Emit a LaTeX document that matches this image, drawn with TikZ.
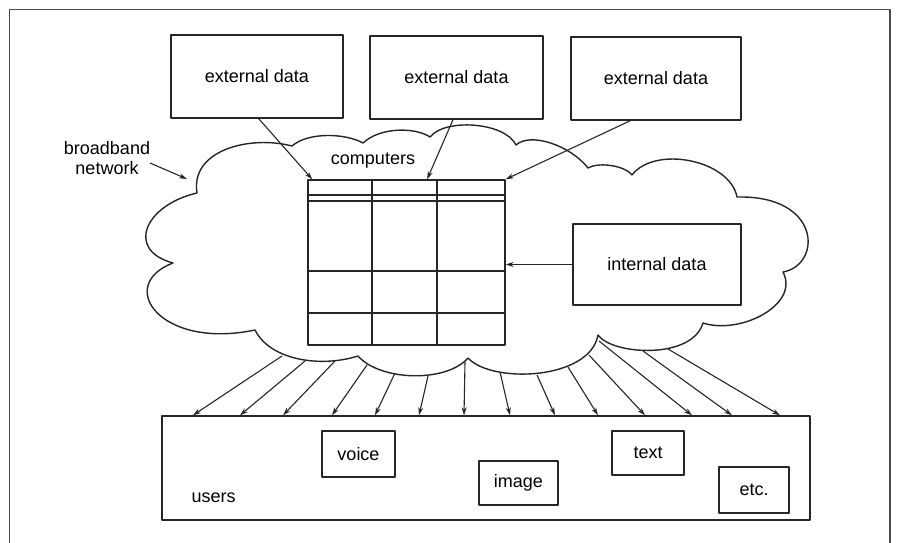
\documentclass[tikz,border=0pt]{standalone}
\usepackage{fontspec}
\setmainfont{Liberation Sans}
\usetikzlibrary{arrows.meta,calc}
\begin{document}
\begin{tikzpicture}[x=1pt,y=-1pt,line join=round,
  every node/.style={font=\fontsize{18}{20}\selectfont,text=black},
  box/.style={draw=black!85,line width=1.4pt,inner sep=0pt},
  conn/.style={draw=black!85,line width=1.1pt,-{Stealth[length=8pt,width=5pt]}},
  outline/.style={draw=black!85,line width=1.4pt},
  gridline/.style={draw=black!85,line width=1.2pt}]
\useasboundingbox (0,0) rectangle (902,543);
\fill[white] (0,0) rectangle (902,543);
% frame
\draw[black!70,line width=1.2pt] (9.5,560) -- (9.5,9.5) -- (890,9.5) -- (890,560);
% cloud
\draw[outline] (197,193)
 .. controls (145,205) and (125,250) .. (173,263)
 .. controls (115,285) and (160,350) .. (255,330)
 .. controls (270,360) and (320,368) .. (358,356)
 .. controls (380,381) and (446,383) .. (468,358)
 .. controls (492,384) and (590,380) .. (598,335)
 .. controls (612,355) and (692,360) .. (703,323)
 .. controls (740,335) and (800,305) .. (783,272)
 .. controls (822,265) and (822,195) .. (737,197)
 .. controls (730,160) and (655,145) .. (632,175)
 .. controls (624,165) and (598,162) .. (588,168)
 .. controls (570,145) and (530,132) .. (516,145)
 .. controls (505,122) and (445,118) .. (430,137)
 .. controls (415,127) and (380,127) .. (363,143)
 .. controls (345,133) and (308,132) .. (292,146)
 .. controls (250,135) and (190,150) .. (197,193) -- cycle;
% external data boxes
\node[box,minimum width=172pt,minimum height=83pt] (ext1) at (257,76.5) {external data};
\node[box,minimum width=173pt,minimum height=83pt] (ext2) at (456.5,77.5) {external data};
\node[box,minimum width=170pt,minimum height=83pt] (ext3) at (656,78.5) {external data};
% computers grid
\node[box,minimum width=197pt,minimum height=165pt] (comp) at (406.5,262.5) {};
\draw[gridline] (372,180) -- (372,345);
\draw[gridline] (437,180) -- (437,345);
\draw[gridline] (308,195) -- (505,195);
\draw[gridline] (308,201) -- (505,201);
\draw[gridline] (308,271) -- (505,271);
\draw[gridline] (308,313) -- (505,313);
\node (complabel) at (373,161) {computers};
% internal data
\node[box,minimum width=168pt,minimum height=81pt] (int) at (657,264.5) {internal data};
% arrows into computers
\draw[conn] ($(ext1.south west)!0.51!(ext1.south east)$) -- ($(comp.north west)!0.025!(comp.north east)$);
\draw[conn] ($(ext2.south west)!0.48!(ext2.south east)$) -- ($(comp.north west)!0.604!(comp.north east)$);
\draw[conn] ($(ext3.south west)!0.35!(ext3.south east)$) -- (comp.north east);
\draw[conn] (int.west) -- (int.west -| comp.east);
% broadband network label
\node[align=center] (bblabel) at (107,158) {broadband\\network};
\coordinate (bnA) at (150,163);
\coordinate (bnB) at (187,179);
\draw[conn] (bnA) -- (bnB);
% users
\node[box,minimum width=648pt,minimum height=104pt] (users) at (486,468) {};
\node[anchor=west] (userslabel) at (188,498) {users};
\node[box,minimum width=73pt,minimum height=46pt] (voice) at (358.5,454) {voice};
\node[box,minimum width=79pt,minimum height=44pt] (image) at (518.5,483) {image};
\node[box,minimum width=72pt,minimum height=44pt] (textb) at (648,453) {text};
\node[box,minimum width=70pt,minimum height=46pt] (etc) at (754,490) {etc.};
% arrows to users
\foreach \sx/\sy/\tx [count=\i] in {282/356/193,305/361/240,335/361/283,367/365/332,395/373/375,428/376/419,465/362/464,500/372/510,537/375/555,568/367/598,589/355/645,599/341/692,643/351/732,668/349/780}{
  \coordinate (s\i) at (\sx,\sy);
  \coordinate (t\i) at (\tx,0 |- users.north);
  \draw[conn] (s\i) -- (t\i);
}
\end{tikzpicture}
\end{document}
